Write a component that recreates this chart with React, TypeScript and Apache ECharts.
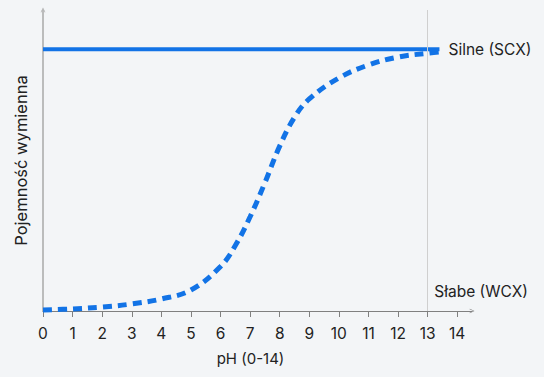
import React, { useEffect, useRef } from "react";
import * as echarts from "echarts";

const phTicks = [0, 1, 2, 3, 4, 5, 6, 7, 8, 9, 10, 11, 12, 13, 14];
const scxX = [0, 13.4];
const scxY = [1, 1];
const wcxX = [0, 1, 2, 3, 4, 5, 6, 6.5, 7, 7.5, 8, 8.5, 9, 10, 11, 12, 13, 13.4];
const wcxY = [0.004, 0.008, 0.015, 0.027, 0.046, 0.08, 0.17, 0.25, 0.36, 0.49, 0.63, 0.74, 0.81, 0.89, 0.94, 0.97, 0.985, 0.99];
const refLineX = 13;
const scxName = "Silne (SCX)";
const wcxName = "Słabe (WCX)";
const xName = "pH (0-14)";
const yName = "Pojemność wymienna";

const FONT = "Inter, 'Noto Sans', sans-serif";
const BLUE = "#1273e6";
const chevron = "path://M0,10 L5,0 L10,10 L8.8,10.6 L5,2.6 L1.2,10.6 Z";

export default function App() {
  const ref = useRef<HTMLDivElement>(null);
  useEffect(() => {
    const chart = echarts.init(ref.current!, undefined, { renderer: "svg" });
    chart.setOption({
      animation: false,
      backgroundColor: "#f3f5f7",
      textStyle: { fontFamily: FONT },
      grid: { left: 43, top: 10, right: 72, bottom: 66, containLabel: false },
      xAxis: {
        type: "value",
        min: 0,
        max: 14.5,
        name: xName,
        nameLocation: "middle",
        nameGap: 40,
        nameTextStyle: { fontSize: 15, color: "#222", fontFamily: FONT, padding: [0, 14, 0, 0] },
        splitLine: { show: false },
        axisLine: {
          show: true,
          lineStyle: { color: "#808080", width: 1 },
          symbol: ["none", chevron],
          symbolSize: [9, 5],
        },
        axisTick: { show: true, length: 6, lineStyle: { color: "#808080" }, customValues: phTicks },
        axisLabel: { fontSize: 15.5, color: "#222", margin: 14, fontFamily: FONT, customValues: phTicks },
      },
      yAxis: {
        type: "value",
        min: 0,
        max: 1.15,
        name: yName,
        nameLocation: "middle",
        nameGap: 14,
        nameTextStyle: { fontSize: 16.5, color: "#222", fontFamily: FONT },
        splitLine: { show: false },
        axisLine: {
          show: true,
          lineStyle: { color: "#a8a8a8", width: 1.5 },
          symbol: ["none", chevron],
          symbolSize: [9, 5],
        },
        axisTick: { show: false },
        axisLabel: { show: false },
      },
      series: [
        {
          type: "line",
          name: scxName,
          data: scxX.map((x, i) => [x, scxY[i]]),
          showSymbol: false,
          symbol: "none",
          lineStyle: { color: BLUE, width: 4 },
          endLabel: {
            show: true,
            formatter: scxName,
            distance: 9,
            fontSize: 15.5,
            color: "#222",
            fontFamily: FONT,
          },
          markLine: {
            silent: true,
            symbol: ["none", "none"],
            label: { show: false },
            lineStyle: { color: "#cfcfcf", width: 1, type: "solid" },
            data: [{ xAxis: refLineX }],
          },
          z: 3,
        },
        {
          type: "line",
          name: wcxName,
          data: wcxX.map((x, i) => [x, wcxY[i]]),
          showSymbol: false,
          symbol: "none",
          smooth: 0.4,
          lineStyle: { color: BLUE, width: 5, type: [9, 6], cap: "butt" },
          z: 2,
        },
      ],
      graphic: [
        {
          type: "text",
          right: 16,
          top: 283,
          style: { text: wcxName, fontSize: 15.5, fill: "#222", fontFamily: FONT },
        },
      ],
    });
    return () => chart.dispose();
  }, []);
  return <div ref={ref} style={{ width: 544, height: 377, position: "fixed", left: 0, top: 0 }} />;
}
